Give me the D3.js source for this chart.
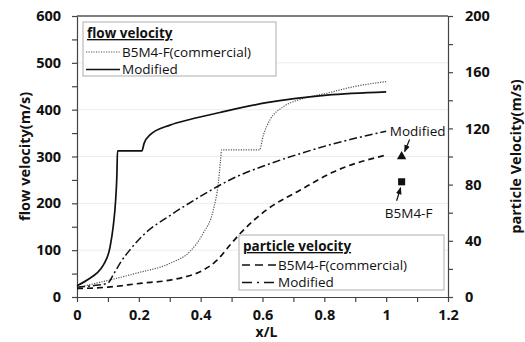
<!DOCTYPE html>
<html>
<head>
<meta charset="utf-8">
<script src="https://cdn.jsdelivr.net/npm/d3@7"></script>
<style>
  body { margin: 0; background: #fff; }
  text { font-family: "Open Sans", "DejaVu Sans", sans-serif; fill: #111; }
</style>
</head>
<body>
<div id="chart"></div>
<script>
// flow velocity (left axis)
const flowModX = [0, 0.042, 0.064, 0.085, 0.107, 0.117, 0.125, 0.129, 0.131, 0.21, 0.217, 0.236, 0.301, 0.365, 0.462, 0.613, 0.808, 1.0];
const flowModV = [24, 40, 51, 68, 107, 150, 207, 260, 312, 312, 328, 346, 367, 379, 394, 415, 431, 438];
const flowComX = [0, 0.085, 0.193, 0.301, 0.365, 0.408, 0.441, 0.457, 0.464, 0.468, 0.59, 0.603, 0.624, 0.667, 0.721, 0.808, 0.894, 1.0];
const flowComV = [20, 33, 51, 72, 97, 136, 186, 243, 290, 314, 314, 346, 378, 406, 422, 435, 449, 460];
// particle velocity (right axis)
const partModX = [0, 0.05, 0.1, 0.117, 0.139, 0.171, 0.214, 0.301, 0.387, 0.457, 0.505, 0.613, 0.721, 0.829, 1.0];
const partModV = [7, 8, 10, 15.7, 24, 33.5, 44, 58, 70, 79, 84.5, 94, 102, 109, 118];
const partComX = [0, 0.1, 0.204, 0.301, 0.344, 0.398, 0.452, 0.495, 0.527, 0.559, 0.613, 0.721, 0.829, 1.0];
const partComV = [6, 7, 9.7, 12, 14, 18, 26, 37, 45, 52, 62, 76, 89, 101];
// single measured points
const markerX = [1.05, 1.05];
const markerV = [100, 82];
const markerName = ['Modified', 'B5M4-F'];

const xTicks = [0, 0.2, 0.4, 0.6, 0.8, 1, 1.2];
const leftTicks = [0, 100, 200, 300, 400, 500, 600];
const rightTicks = [0, 40, 80, 120, 160, 200];

let width = 525;
let height = 342;
let m = { top: 16, bottom: 45, left: 77, right: 77 };

let svg = d3.select('#chart').append('svg')
    .attr('width', width)
    .attr('height', height);

let x = d3.scaleLinear().domain([0, 1.2]).range([m.left, width - m.right]);
let yL = d3.scaleLinear().domain([0, 600]).range([height - m.bottom, m.top]);
let yR = d3.scaleLinear().domain([0, 200]).range([height - m.bottom, m.top]);

// faint gridlines
svg.append('g')
    .selectAll('line')
    .data(leftTicks.slice(1, -1))
    .enter()
    .append('line')
    .attr('x1', x(0)).attr('x2', x(1.2))
    .attr('y1', d => yL(d)).attr('y2', d => yL(d))
    .style('stroke', '#ececec');

// top border
svg.append('line')
    .attr('x1', x(0)).attr('x2', x(1.2))
    .attr('y1', yL(600)).attr('y2', yL(600))
    .style('stroke', '#555').style('stroke-width', 1.5);

function styleAxis(g) {
    g.selectAll('path, line').style('stroke', '#444').style('stroke-width', 1.2);
    g.selectAll('text')
        .style('font-family', '"Open Sans", sans-serif')
        .style('font-weight', 'bold')
        .style('font-size', '14.5px')
        .style('fill', '#111');
}

let xAxis = svg.append('g')
    .attr('transform', `translate(0,${yL(0)})`)
    .call(d3.axisBottom(x).tickValues(d3.range(0, 1.21, 0.1)).tickSize(5).tickSizeOuter(0)
        .tickFormat(d => xTicks.some(t => Math.abs(t - d) < 1e-6) ? d3.format('~g')(+d.toFixed(1)) : ''));
styleAxis(xAxis);
xAxis.selectAll('text').attr('dy', null).attr('y', 23);

let leftAxis = svg.append('g')
    .attr('transform', `translate(${x(0)},0)`)
    .call(d3.axisLeft(yL).tickValues(d3.range(0, 601, 50)).tickSize(5).tickSizeOuter(0)
        .tickFormat(d => leftTicks.includes(d) ? d : ''));
styleAxis(leftAxis);
leftAxis.selectAll('text').attr('x', -16);

let rightAxis = svg.append('g')
    .attr('transform', `translate(${x(1.2)},0)`)
    .call(d3.axisRight(yR).tickValues(d3.range(0, 201, 20)).tickSize(5).tickSizeOuter(0)
        .tickFormat(d => rightTicks.includes(d) ? d : ''));
styleAxis(rightAxis);
rightAxis.selectAll('text').attr('x', 17);

// axis titles
svg.append('text')
    .attr('transform', `translate(${x(0.6) + 4},${height - 5}) `)
    .attr('text-anchor', 'middle')
    .style('font-weight', 'bold').style('font-size', '14px')
    .text('x/L');
svg.append('text')
    .attr('transform', `translate(30,${(m.top + height - m.bottom) / 2}) rotate(-90)`)
    .attr('text-anchor', 'middle')
    .style('font-weight', 'bold').style('font-size', '14.5px')
    .text('flow velocity(m/s)');
svg.append('text')
    .attr('transform', `translate(521,${(m.top + height - m.bottom) / 2}) rotate(-90)`)
    .attr('text-anchor', 'middle')
    .style('font-weight', 'bold').style('font-size', '14.5px')
    .text('particle Velocity(m/s)');

// series
let series = [
    { xs: flowComX, vs: flowComV, y: yL, dash: '1.2,1.3', w: 1.2, color: '#555' },
    { xs: flowModX, vs: flowModV, y: yL, dash: null, w: 1.7, color: '#111' },
    { xs: partComX, vs: partComV, y: yR, dash: '6,4', w: 1.7, color: '#111' },
    { xs: partModX, vs: partModV, y: yR, dash: '8,3,2,3', w: 1.5, color: '#111' }
];

series.forEach(s => {
    let line = d3.line()
        .x(d => x(d[0]))
        .y(d => s.y(d[1]))
        .curve(d3.curveMonotoneX);
    svg.append('path')
        .datum(s.xs.map((v, i) => [v, s.vs[i]]))
        .attr('d', line)
        .style('fill', 'none')
        .style('stroke', s.color)
        .style('stroke-width', s.w)
        .style('stroke-dasharray', s.dash);
});

// markers
let tri = d3.symbol().type(d3.symbolTriangle).size(38);
let sq = d3.symbol().type(d3.symbolSquare).size(50);
svg.append('path')
    .attr('transform', `translate(${x(markerX[0])},${yR(markerV[0])})`)
    .attr('d', tri())
    .style('fill', '#111');
svg.append('path')
    .attr('transform', `translate(${x(markerX[1])},${yR(markerV[1])})`)
    .attr('d', sq())
    .style('fill', '#111');

// annotations
svg.append('defs').append('marker')
    .attr('id', 'arr')
    .attr('viewBox', '0 0 10 10')
    .attr('refX', 9).attr('refY', 5)
    .attr('markerWidth', 6).attr('markerHeight', 6)
    .attr('orient', 'auto')
    .append('path')
    .attr('d', 'M0,1L10,5L0,9Z')
    .style('fill', '#111');

svg.append('text')
    .attr('x', x(markerX[0]) + 16).attr('y', yR(markerV[0]) - 21)
    .attr('text-anchor', 'middle')
    .style('font-size', '13.5px')
    .text(markerName[0]);
svg.append('line')
    .attr('x1', x(markerX[0]) + 8).attr('y1', yR(markerV[0]) - 17)
    .attr('x2', x(markerX[0]) + 3).attr('y2', yR(markerV[0]) - 5)
    .attr('marker-end', 'url(#arr)')
    .style('stroke', '#111').style('stroke-width', 1.2);

svg.append('text')
    .attr('x', x(markerX[1]) + 7).attr('y', yR(markerV[1]) + 36)
    .attr('text-anchor', 'middle')
    .style('font-size', '13.5px')
    .text(markerName[1]);
svg.append('line')
    .attr('x1', x(markerX[1]) - 5).attr('y1', yR(markerV[1]) + 19)
    .attr('x2', x(markerX[1]) - 1).attr('y2', yR(markerV[1]) + 6)
    .attr('marker-end', 'url(#arr)')
    .style('stroke', '#111').style('stroke-width', 1.2);

// legends
function legend(gx, gy, w, h, title, items) {
    let g = svg.append('g').attr('transform', `translate(${gx},${gy})`);
    g.append('rect')
        .attr('width', w).attr('height', h)
        .style('fill', '#fff').style('stroke', '#bbb').style('stroke-width', 1.2);
    g.append('text')
        .attr('x', 4).attr('y', 16)
        .style('font-weight', 'bold').style('font-size', '13.5px')
        .style('text-decoration', 'underline')
        .text(title);
    items.forEach((it, i) => {
        let yy = 30 + i * 17.5;
        g.append('line')
            .attr('x1', 3).attr('x2', 37).attr('y1', yy).attr('y2', yy)
            .style('stroke', it.color).style('stroke-width', it.w)
            .style('stroke-dasharray', it.dash);
        g.append('text')
            .attr('x', 39).attr('y', yy + 4.5)
            .style('font-size', '13.5px')
            .text(it.label);
    });
}

legend(83, 22, 193, 54, 'flow velocity', [
    { label: 'B5M4-F(commercial)', dash: series[0].dash, w: 1.2, color: '#555' },
    { label: 'Modified', dash: null, w: 1.7, color: '#111' }
]);
legend(239, 235, 205, 55, 'particle velocity', [
    { label: 'B5M4-F(commercial)', dash: '8,5', w: 1.5, color: '#111' },
    { label: 'Modified', dash: '10,5,2,5', w: 1.5, color: '#111' }
]);
</script>
</body>
</html>
